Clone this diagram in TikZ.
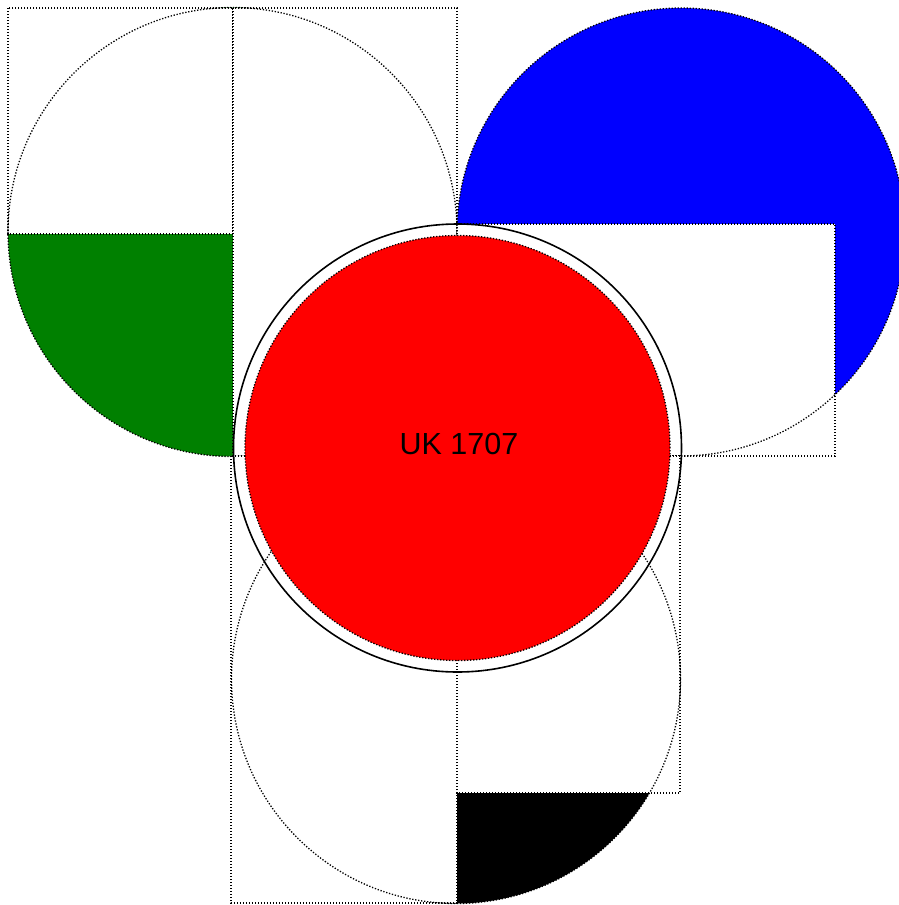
\documentclass[tikz,border=0pt]{standalone}
\usepackage{fontspec}
\setmainfont{Liberation Sans}
\definecolor{flaggreen}{RGB}{0,128,0}
\definecolor{flagblue}{RGB}{0,0,255}
\definecolor{flagred}{RGB}{255,0,0}
\begin{document}
\begin{tikzpicture}[x=1pt,y=-1pt,
  dotl/.style={line width=1.3pt,dash pattern=on 1.3pt off 1.7pt},
  coverbox/.style={dotl,fill=white}]
\useasboundingbox (0,0) rectangle (899,905);
% top-left circle (green)
\coordinate (tl) at (232.5,232);
\fill[flaggreen] (tl) circle[radius=224.5pt];
\filldraw[coverbox] (8,8) rectangle (233,234);
\filldraw[coverbox] (233,8) rectangle (457,456);
\draw[dotl] (tl) circle[radius=224.5pt];
% top-right circle (blue)
\coordinate (tr) at (681,232);
\fill[flagblue] (tr) circle[radius=224pt];
\filldraw[coverbox] (457,224) rectangle (835,456);
\draw[dotl] (tr) circle[radius=224pt];
% bottom circle (black)
\coordinate (bt) at (456,679);
\fill[black] (bt) circle[radius=224.5pt];
\filldraw[coverbox] (231,456) rectangle (457,903);
\filldraw[coverbox] (457,456) rectangle (680,793);
\draw[dotl] (bt) circle[radius=224.5pt];
% centre circle (red)
\coordinate (ct) at (457.5,448);
\filldraw[flagred,draw=black,dotl] (ct) circle[radius=212.5pt];
\draw[line width=1.6pt] (ct) circle[radius=224pt];
\node (label) at (459,444) {\fontsize{30.5}{36}\selectfont UK 1707};
\end{tikzpicture}
\end{document}
